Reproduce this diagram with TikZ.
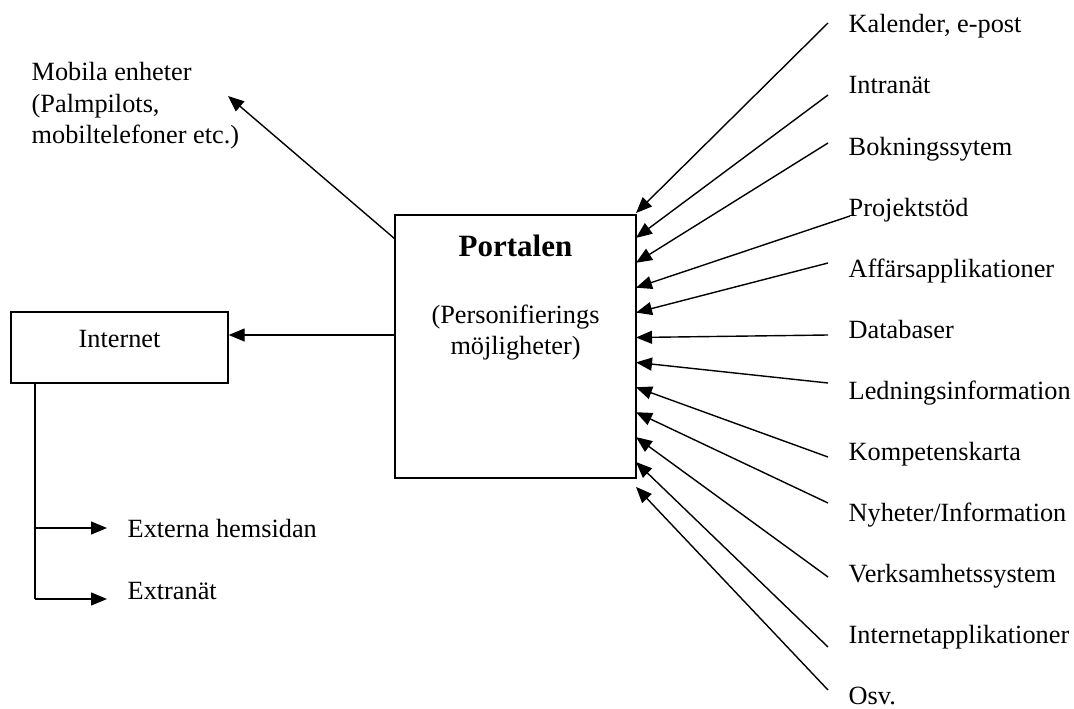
\documentclass[tikz,border=0pt]{standalone}
\usepackage{fontspec}
\setmainfont{Liberation Serif}
\usetikzlibrary{arrows.meta}
\begin{document}
\begin{tikzpicture}[x=1pt,y=-1pt,
  line width=1.4pt,
  arr/.style={-{Triangle[length=16pt,width=13pt]}},
  lbl/.style={inner sep=0pt,anchor=base west,font=\fontsize{26.3}{31}\selectfont},
  box/.style={draw,inner sep=0pt}]
\useasboundingbox (0,0) rectangle (1074,709);
% boxes
\node[box,minimum width=241pt,minimum height=263pt] (portal) at (515.5,346.5) {};
\node[box,minimum width=217pt,minimum height=71pt] (internet) at (119.5,347.5) {};
% box texts
\node[inner sep=0pt,anchor=base,font=\fontsize{31}{36}\selectfont\bfseries] (ptitle) at (515.5,256) {Portalen};
\node[inner sep=0pt,anchor=base,font=\fontsize{26.3}{31}\selectfont] (psub1) at (515.5,323) {(Personifierings};
\node[inner sep=0pt,anchor=base,font=\fontsize{26.3}{31}\selectfont] (psub2) at (515.5,354) {möjligheter)};
\node[inner sep=0pt,anchor=base,font=\fontsize{26.3}{31}\selectfont] (itext) at (119.5,347) {Internet};
% mobile
\node[lbl] (mob1) at (31,81) {Mobila enheter};
\node[lbl] (mob2) at (31,112) {(Palmpilots,};
\node[lbl] (mob3) at (31,143) {mobiltelefoner etc.)};
\coordinate (mobS) at (395,239);
\coordinate (mobT) at (228,96);
\draw[arr] (mobS) -- (mobT);
% portal -> internet
\coordinate (pi) at (395,335);
\draw[arr] (pi) -- (internet.east |- pi);
% internet branches
\coordinate (ib) at (35,383);
\coordinate (b1) at (35,528);
\coordinate (b2) at (35,599);
\node[lbl] (ext1) at (127,537) {Externa hemsidan};
\node[lbl] (ext2) at (127,599) {Extranät};
\coordinate (e1) at (107,528);
\coordinate (e2) at (107,599);
\draw (ib) -- (b2);
\draw[arr] (b1) -- (e1);
\draw[arr] (b2) -- (e2);
% right labels
\foreach \i/\t/\sx/\sy in {0/{Kalender, e-post}/828/23,
  1/{Intranät}/828/95,
  2/{Bokningssytem}/828/143,
  3/{Projektstöd}/850/216,
  4/{Affärsapplikationer}/828/263,
  5/{Databaser}/828/335,
  6/{Ledningsinformation}/828/383,
  7/{Kompetenskarta}/828/457,
  8/{Nyheter/Information}/828/503,
  9/{Verksamhetssystem}/828/577,
  10/{Internetapplikationer}/828/647,
  11/{Osv.}/828/690}{
  \node[lbl] (r\i) at (848,33+61*\i) {\t};
  \coordinate (s\i) at (\sx,\sy);
  \coordinate (t\i) at (636,213+24.9*\i);
  \draw[arr] (s\i) -- (t\i);
}
\end{tikzpicture}
\end{document}
